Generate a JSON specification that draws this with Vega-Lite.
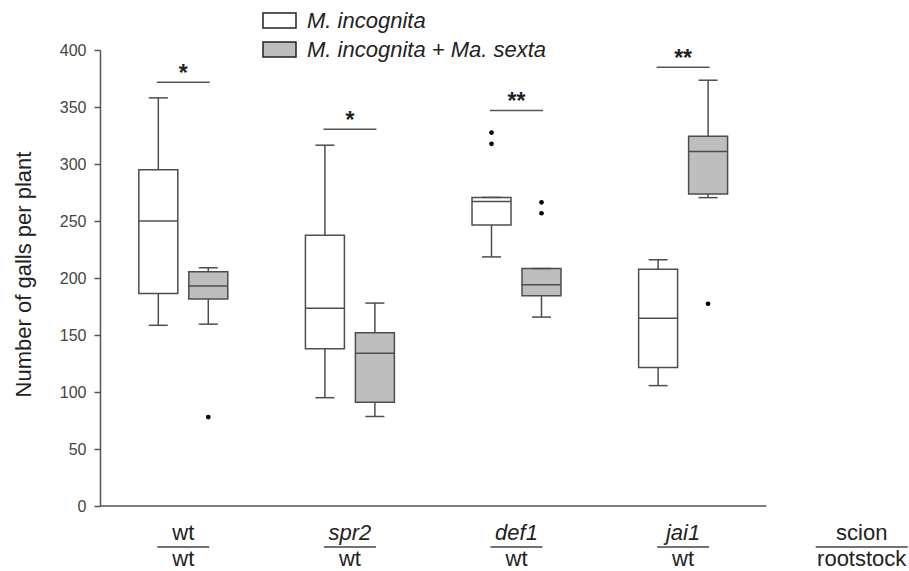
{
  "$schema": "https://vega.github.io/schema/vega-lite/v6.json",
  "autosize": {"type": "none"},
  "padding": {"left": 100, "top": 50, "right": 0, "bottom": 65},
  "width": 809,
  "height": 456,
  "background": "white",
  "config": {
    "view": {"stroke": null},
    "font": "Liberation Sans",
    "axisY": {
      "grid": false,
      "tickSize": 6,
      "tickColor": "#555555",
      "tickWidth": 1.5,
      "domainColor": "#555555",
      "domainWidth": 1.5,
      "labelFont": "Liberation Sans",
      "labelFontSize": 16,
      "labelColor": "#444444",
      "labelPadding": 8,
      "titleFont": "Liberation Sans",
      "titleFontSize": 22,
      "titleFontWeight": "normal",
      "titleColor": "#222222",
      "titleAngle": 270,
      "titleX": -77,
      "titleY": 224,
      "titleAlign": "center",
      "titleBaseline": "middle"
    }
  },
  "datasets": {
    "boxes": [
      {"graft": "wt/wt", "series": "M. incognita", "lower": 158.5, "q1": 186.5, "median": 250, "q3": 295, "upper": 358},
      {"graft": "wt/wt", "series": "M. incognita + Ma. sexta", "lower": 159.5, "q1": 181.5, "median": 193, "q3": 205.5, "upper": 209},
      {"graft": "spr2/wt", "series": "M. incognita", "lower": 95, "q1": 138, "median": 173.5, "q3": 237.5, "upper": 316.5},
      {"graft": "spr2/wt", "series": "M. incognita + Ma. sexta", "lower": 78.5, "q1": 91, "median": 134, "q3": 152, "upper": 178},
      {"graft": "def1/wt", "series": "M. incognita", "lower": 218.5, "q1": 246.5, "median": 267, "q3": 270.7, "upper": 270.7},
      {"graft": "def1/wt", "series": "M. incognita + Ma. sexta", "lower": 165.7, "q1": 184.4, "median": 194, "q3": 208.3, "upper": 208.3},
      {"graft": "jai1/wt", "series": "M. incognita", "lower": 105.6, "q1": 121.4, "median": 164.6, "q3": 207.7, "upper": 216},
      {"graft": "jai1/wt", "series": "M. incognita + Ma. sexta", "lower": 270.5, "q1": 273.7, "median": 311, "q3": 324.4, "upper": 373.5}
    ],
    "outliers": [
      {"graft": "wt/wt", "series": "M. incognita + Ma. sexta", "value": 78},
      {"graft": "def1/wt", "series": "M. incognita", "value": 327.6},
      {"graft": "def1/wt", "series": "M. incognita", "value": 317.7},
      {"graft": "def1/wt", "series": "M. incognita + Ma. sexta", "value": 266.4},
      {"graft": "def1/wt", "series": "M. incognita + Ma. sexta", "value": 256.8},
      {"graft": "jai1/wt", "series": "M. incognita + Ma. sexta", "value": 177.4}
    ],
    "sig": [
      {"graft": "wt/wt", "value": 371.7, "mark": "*"},
      {"graft": "spr2/wt", "value": 330.5, "mark": "*"},
      {"graft": "def1/wt", "value": 347, "mark": "**"},
      {"graft": "jai1/wt", "value": 384.8, "mark": "**"}
    ],
    "labels": [
      {"graft": "wt/wt", "scion": "wt", "rootstock": "wt", "kind": "wild type"},
      {"graft": "spr2/wt", "scion": "spr2", "rootstock": "wt", "kind": "mutant"},
      {"graft": "def1/wt", "scion": "def1", "rootstock": "wt", "kind": "mutant"},
      {"graft": "jai1/wt", "scion": "jai1", "rootstock": "wt", "kind": "mutant"},
      {"graft": "scion/rootstock", "scion": "scion", "rootstock": "rootstock", "kind": "header"}
    ]
  },
  "encoding": {
    "x": {
      "field": "graft",
      "type": "nominal",
      "scale": {"domain": ["wt/wt", "spr2/wt", "def1/wt", "jai1/wt", "scion/rootstock"], "range": [0, 833], "paddingInner": 0, "paddingOuter": 0},
      "axis": null
    }
  },
  "layer": [
    {
      "data": {"name": "boxes"},
      "mark": {"type": "rule", "stroke": "#4d4d4d", "strokeWidth": 1.5},
      "encoding": {
        "xOffset": {"field": "series", "type": "nominal", "scale": {"domain": ["M. incognita", "M. incognita + Ma. sexta"], "paddingInner": 0.22, "paddingOuter": 0.7767}},
        "y": {
          "field": "lower",
          "type": "quantitative",
          "title": "Number of galls per plant",
          "scale": {"domain": [0, 400], "nice": false},
          "axis": {"values": [0, 50, 100, 150, 200, 250, 300, 350, 400]}
        },
        "y2": {"field": "upper"}
      }
    },
    {
      "data": {"name": "boxes"},
      "mark": {"type": "bar", "stroke": "#4d4d4d", "strokeWidth": 1.5},
      "encoding": {
        "xOffset": {"field": "series", "type": "nominal"},
        "y": {"field": "q1", "type": "quantitative", "title": "Number of galls per plant"},
        "y2": {"field": "q3"},
        "fill": {
          "field": "series",
          "type": "nominal",
          "scale": {"domain": ["M. incognita", "M. incognita + Ma. sexta"], "range": ["#ffffff", "#bebebe"]},
          "legend": {
            "orient": "none",
            "legendX": 162,
            "legendY": -47,
            "direction": "vertical",
            "title": null,
            "padding": 0,
            "symbolType": "M-1,-0.45H1V0.45H-1Z",
            "symbolSize": 1089,
            "symbolStrokeColor": "#222222",
            "symbolStrokeWidth": 1.5,
            "labelFont": "Liberation Sans",
            "labelFontSize": 22,
            "labelFontStyle": "italic",
            "labelColor": "#222222",
            "labelOffset": 10,
            "labelLimit": 500,
            "rowPadding": -1.5
          }
        }
      }
    },
    {
      "data": {"name": "boxes"},
      "mark": {"type": "tick", "orient": "horizontal", "color": "#4d4d4d", "size": 39, "thickness": 1.5, "opacity": 1},
      "encoding": {
        "xOffset": {"field": "series", "type": "nominal"},
        "y": {"field": "median", "type": "quantitative", "title": "Number of galls per plant"}
      }
    },
    {
      "data": {"name": "boxes"},
      "mark": {"type": "tick", "orient": "horizontal", "color": "#4d4d4d", "size": 19, "thickness": 1.5, "opacity": 1},
      "encoding": {
        "xOffset": {"field": "series", "type": "nominal"},
        "y": {"field": "upper", "type": "quantitative", "title": "Number of galls per plant"}
      }
    },
    {
      "data": {"name": "boxes"},
      "mark": {"type": "tick", "orient": "horizontal", "color": "#4d4d4d", "size": 19, "thickness": 1.5, "opacity": 1},
      "encoding": {
        "xOffset": {"field": "series", "type": "nominal"},
        "y": {"field": "lower", "type": "quantitative", "title": "Number of galls per plant"}
      }
    },
    {
      "data": {"name": "outliers"},
      "mark": {"type": "circle", "color": "#000000", "size": 22, "opacity": 1},
      "encoding": {
        "xOffset": {"field": "series", "type": "nominal"},
        "y": {"field": "value", "type": "quantitative", "title": "Number of galls per plant"}
      }
    },
    {
      "data": {"name": "sig"},
      "mark": {"type": "tick", "orient": "horizontal", "color": "#555555", "size": 53, "thickness": 1.5, "opacity": 1},
      "encoding": {
        "y": {"field": "value", "type": "quantitative", "title": "Number of galls per plant"}
      }
    },
    {
      "data": {"name": "sig"},
      "mark": {"type": "text", "font": "Liberation Sans", "fontSize": 23, "fontWeight": "bold", "color": "#222222", "baseline": "alphabetic", "dy": -1},
      "encoding": {
        "y": {"field": "value", "type": "quantitative", "title": "Number of galls per plant"},
        "text": {"field": "mark"}
      }
    },
    {
      "data": {"values": [{}]},
      "mark": {"type": "rule", "stroke": "#555555", "strokeWidth": 1.5},
      "encoding": {
        "x": {"datum": "wt/wt", "bandPosition": 0},
        "x2": {"datum": "scion/rootstock", "bandPosition": 0},
        "y": {"datum": 0, "type": "quantitative", "title": "Number of galls per plant"}
      }
    },
    {
      "data": {"name": "labels"},
      "transform": [{"filter": "datum.kind == 'wild type'"}],
      "mark": {"type": "text", "font": "Liberation Sans", "fontSize": 22, "color": "#222222", "baseline": "alphabetic", "dy": 34},
      "encoding": {
        "y": {"datum": 0, "type": "quantitative", "title": "Number of galls per plant"},
        "text": {"field": "scion"}
      }
    },
    {
      "data": {"name": "labels"},
      "transform": [{"filter": "datum.kind == 'mutant'"}],
      "mark": {"type": "text", "font": "Liberation Sans", "fontSize": 22, "fontStyle": "italic", "color": "#222222", "baseline": "alphabetic", "dy": 34},
      "encoding": {
        "y": {"datum": 0, "type": "quantitative", "title": "Number of galls per plant"},
        "text": {"field": "scion"}
      }
    },
    {
      "data": {"name": "labels"},
      "transform": [{"filter": "datum.kind != 'header'"}],
      "mark": {"type": "text", "font": "Liberation Sans", "fontSize": 22, "color": "#222222", "baseline": "alphabetic", "dy": 60},
      "encoding": {
        "y": {"datum": 0, "type": "quantitative", "title": "Number of galls per plant"},
        "text": {"field": "rootstock"}
      }
    },
    {
      "data": {"name": "labels"},
      "transform": [{"filter": "datum.kind != 'header'"}],
      "mark": {"type": "tick", "orient": "horizontal", "color": "#444444", "size": 52, "thickness": 1.5, "opacity": 1, "yOffset": 41},
      "encoding": {
        "y": {"datum": 0, "type": "quantitative", "title": "Number of galls per plant"}
      }
    },
    {
      "data": {"name": "labels"},
      "transform": [{"filter": "datum.kind == 'header'"}],
      "mark": {"type": "text", "font": "Liberation Sans", "fontSize": 22, "color": "#222222", "baseline": "alphabetic", "dy": 34, "dx": 12},
      "encoding": {
        "y": {"datum": 0, "type": "quantitative", "title": "Number of galls per plant"},
        "text": {"field": "scion"}
      }
    },
    {
      "data": {"name": "labels"},
      "transform": [{"filter": "datum.kind == 'header'"}],
      "mark": {"type": "text", "font": "Liberation Sans", "fontSize": 22, "color": "#222222", "baseline": "alphabetic", "dy": 60, "dx": 12},
      "encoding": {
        "y": {"datum": 0, "type": "quantitative", "title": "Number of galls per plant"},
        "text": {"field": "rootstock"}
      }
    },
    {
      "data": {"name": "labels"},
      "transform": [{"filter": "datum.kind == 'header'"}],
      "mark": {"type": "tick", "orient": "horizontal", "color": "#444444", "size": 92, "thickness": 1.5, "opacity": 1, "yOffset": 41, "xOffset": 12},
      "encoding": {
        "y": {"datum": 0, "type": "quantitative", "title": "Number of galls per plant"}
      }
    }
  ]
}
